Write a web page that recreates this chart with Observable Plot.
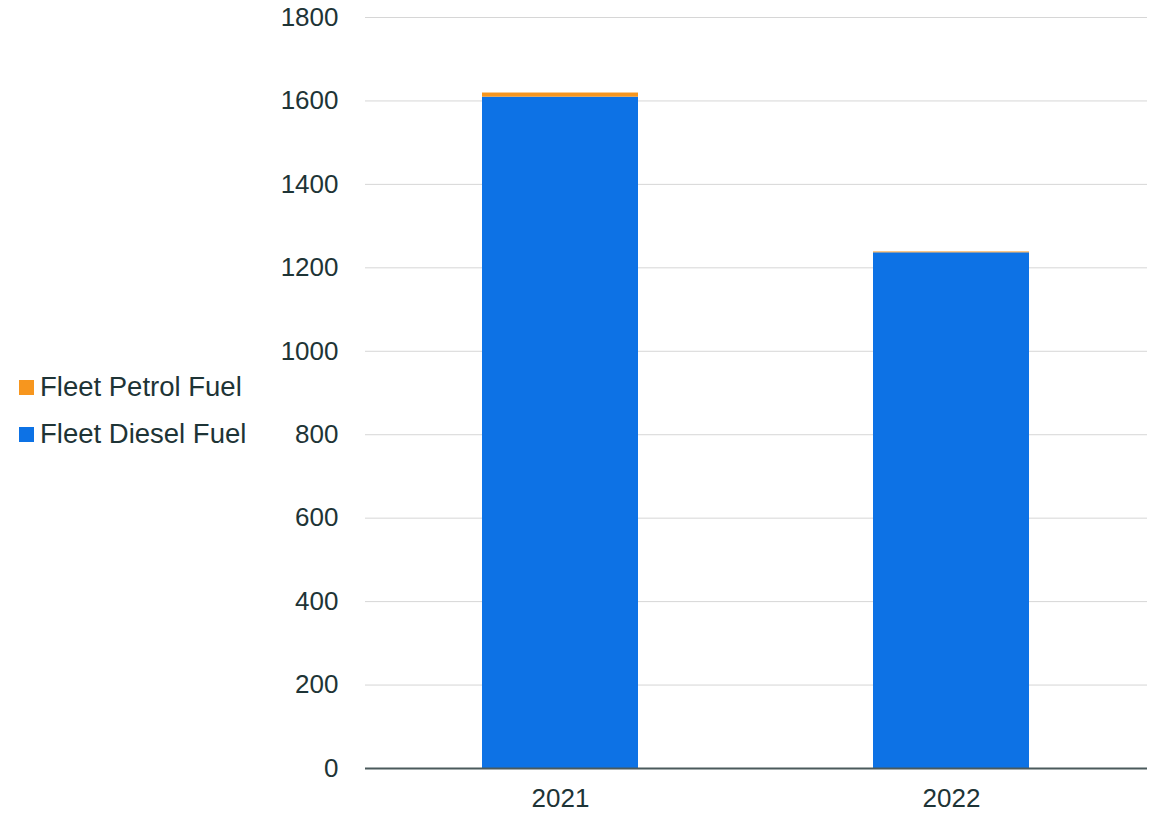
<!DOCTYPE html>
<html>
<head>
<meta charset="utf-8">
<script src="https://cdn.jsdelivr.net/npm/d3@7"></script>
<script src="https://cdn.jsdelivr.net/npm/@observablehq/plot@0.6"></script>
<style>
  html, body { margin: 0; padding: 0; background: #fff; }
  #wrap { position: relative; width: 1165px; height: 815px; font-family: "Liberation Sans", Arial, sans-serif; }
  #legend { position: absolute; left: 19px; top: 372px; color: #1e3436; font-size: 27.5px; }
  .item { display: flex; align-items: center; height: 30px; margin-bottom: 17px; white-space: nowrap; }
  .sw { width: 15px; height: 15px; margin-right: 6px; flex: none; }
</style>
</head>
<body>
<div id="wrap"><div id="legend"></div></div>
<script>
const years = ["2021", "2022"];
const series = ["Fleet Diesel Fuel", "Fleet Petrol Fuel"];
const diesel = [1609, 1236];
const petrol = [10, 2];
const colors = ["#0d72e5", "#f7961e"];
const yTicks = [0, 200, 400, 600, 800, 1000, 1200, 1400, 1600, 1800];

const data = [];
years.forEach((y, i) => {
  data.push({year: y, series: series[0], value: diesel[i]});
  data.push({year: y, series: series[1], value: petrol[i]});
});

const chart = Plot.plot({
  width: 1165,
  height: 815,
  marginLeft: 365,
  marginRight: 18,
  marginTop: 17,
  marginBottom: 47,
  style: {fontFamily: "'Liberation Sans', Arial, sans-serif", fontSize: "26px", color: "#1e3436", background: "#fff"},
  x: {domain: years, paddingInner: 0.6, paddingOuter: 0.3, label: null},
  y: {domain: [0, 1800], label: null},
  color: {domain: series, range: colors},
  marks: [
    Plot.gridY(yTicks.filter(d => d > 0), {stroke: "#d6d6d6", strokeOpacity: 1}),
    Plot.barY(data, {x: "year", y: "value", fill: "series", order: series}),
    Plot.ruleY([0], {stroke: "#4b5a5c", strokeWidth: 2}),
    Plot.axisY({ticks: yTicks, tickFormat: d => String(d), tickSize: 0, tickPadding: 27, label: null, fontSize: 26, fill: "#1e3436"}),
    Plot.axisX({tickSize: 0, tickPadding: 20, label: null, fontSize: 26, fill: "#1e3436"})
  ]
});
document.getElementById("wrap").prepend(chart);
chart.style.position = "absolute";
chart.style.left = "0";
chart.style.top = "0";

const legend = document.getElementById("legend");
[[series[1], colors[1]], [series[0], colors[0]]].forEach(([name, c]) => {
  const it = document.createElement("div");
  it.className = "item";
  it.innerHTML = `<div class="sw" style="background:${c}"></div><span>${name}</span>`;
  legend.appendChild(it);
});
</script>
</body>
</html>
